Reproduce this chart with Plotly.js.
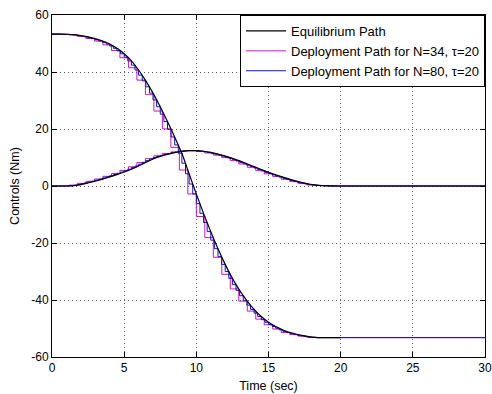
<!DOCTYPE html>
<html>
<head>
<meta charset="utf-8">
<script src="https://cdn.plot.ly/plotly-3.0.1.min.js"></script>
<style>
html,body{margin:0;padding:0;background:#fff;}
#chart{width:492px;height:394px;}
</style>
</head>
<body>
<div id="chart"></div>
<script>
// ---- Data ----
var tau = 20;            // deployment horizon (sec)
var tEnd = 30;           // end of time axis (sec)
var nCoarse = 34;        // N for the magenta deployment path
var nFine = 80;          // N for the blue deployment path

// Equilibrium path, sampled every 0.5 s
var eqTime1 = [0,0.5,1,1.5,2,2.5,3,3.5,4,4.5,5,5.5,6,6.5,7,7.5,8,8.5,9,9.5,10,10.5,11,11.5,12,12.5,13,13.5,14,14.5,15,15.5,16,16.5,17,17.5,18,18.5,19,19.5,20];
var eqU1 = [53.3,53.3,53.25,53.1,52.8,52.3,51.7,50.9,49.8,48.3,46.4,43.9,40.7,36.9,32.6,27.8,22.6,17.2,11.5,4.3,-2.8,-9.6,-16.0,-22.0,-27.5,-32.4,-36.6,-40.2,-43.3,-45.8,-47.8,-49.3,-50.5,-51.4,-52.1,-52.6,-53.0,-53.2,-53.2,-53.2,-53.2];
var eqTime2 = [0,0.5,1,1.5,2,2.5,3,3.5,4,4.5,5,5.5,6,6.5,7,7.5,8,8.5,9,9.5,10,10.5,11,11.5,12,12.5,13,13.5,14,14.5,15,15.5,16,16.5,17,17.5,18,18.5,19,19.5,20,30];
var eqU2 = [0,0,0,0.1,0.5,1.1,1.7,2.4,3.2,4.0,4.9,5.9,7.0,8.3,9.5,10.4,11.1,11.7,12.1,12.4,12.4,12.2,11.8,11.2,10.5,9.7,8.8,7.8,6.8,5.8,4.8,3.9,3.1,2.3,1.6,1.0,0.5,0.25,0.1,0.03,0,0];

// Deployment path N=34 (values at each sample instant k*tau/N)
var n34U1 = [53.3,53.3,53.2,53.0,52.45,51.75,50.85,49.5,47.55,45.0,41.5,37.15,32.05,26.3,20.05,13.55,5.6,-2.8,-10.7,-18.1,-25.0,-31.0,-36.1,-40.4,-43.9,-46.7,-48.7,-50.2,-51.4,-52.15,-52.7,-53.1,-53.2,-53.2,-53.2];
var n34U2 = [0,0,0.02,0.3,0.92,1.63,2.45,3.39,4.37,5.49,6.74,8.22,9.6,10.6,11.38,11.96,12.35,12.4,12.13,11.59,10.83,9.94,8.9,7.74,6.56,5.39,4.27,3.29,2.35,1.53,0.85,0.38,0.15,0.04,0];

// Deployment path N=80
var n80U1 = [53.3,53.3,53.3,53.3,53.25,53.2,53.1,53.0,52.8,52.55,52.3,52.0,51.7,51.3,50.9,50.4,49.8,49.1,48.3,47.4,46.4,45.2,43.9,42.4,40.7,38.9,36.9,34.8,32.6,30.2,27.8,25.2,22.6,19.9,17.2,14.4,11.5,8.0,4.3,0.7,-2.8,-6.2,-9.6,-12.8,-16.0,-19.0,-22.0,-24.8,-27.5,-30.0,-32.4,-34.6,-36.6,-38.5,-40.2,-41.8,-43.3,-44.6,-45.8,-46.9,-47.8,-48.6,-49.3,-49.9,-50.5,-51.0,-51.4,-51.8,-52.1,-52.4,-52.6,-52.8,-53.0,-53.1,-53.2,-53.2,-53.2,-53.2,-53.2,-53.2,-53.2];
var n80U2 = [0,0,0,0,0,0.03,0.1,0.28,0.5,0.8,1.1,1.4,1.7,2.05,2.4,2.8,3.2,3.6,4.0,4.45,4.9,5.4,5.9,6.45,7.0,7.65,8.3,8.9,9.5,9.95,10.4,10.75,11.1,11.4,11.7,11.9,12.1,12.25,12.4,12.42,12.4,12.3,12.2,12.0,11.8,11.5,11.2,10.85,10.5,10.1,9.7,9.25,8.8,8.3,7.8,7.3,6.8,6.3,5.8,5.3,4.8,4.35,3.9,3.5,3.1,2.7,2.3,1.95,1.6,1.3,1.0,0.75,0.5,0.37,0.25,0.17,0.1,0.06,0.03,0.01,0];

var xTicks = [0,5,10,15,20,25,30];
var yTicks = [-60,-40,-20,0,20,40,60];

var legendNames = ['Equilibrium Path', 'Deployment Path for N=34, \u03c4=20', 'Deployment Path for N=80, \u03c4=20'];

// ---- Build sample instants from N and tau; deployment holds its last value to tEnd ----
function grid(N){ var a=[]; for(var k=0;k<=N;k++){ a.push(k*tau/N); } a.push(tEnd); return a; }
function hold(v){ return v.concat([v[v.length-1]]); }

var cBlack = '#000000', cMag = '#d010d0', cBlue = '#1010c8';

var traces = [
  {x:grid(nCoarse), y:hold(n34U1), mode:'lines', line:{color:cMag, width:1, shape:'vh'}, name:legendNames[1], legendrank:2, legendgroup:'b'},
  {x:grid(nCoarse), y:hold(n34U2), mode:'lines', line:{color:cMag, width:1, shape:'vh'}, showlegend:false, legendgroup:'b'},
  {x:grid(nFine), y:hold(n80U1), mode:'lines', line:{color:cBlue, width:1, shape:'vh'}, name:legendNames[2], legendrank:3, legendgroup:'c'},
  {x:grid(nFine), y:hold(n80U2), mode:'lines', line:{color:cBlue, width:1, shape:'vh'}, showlegend:false, legendgroup:'c'},
  {x:eqTime1, y:eqU1, mode:'lines', line:{color:cBlack, width:1.2, shape:'spline', smoothing:0.6}, name:legendNames[0], legendrank:1, legendgroup:'a'},
  {x:eqTime2, y:eqU2, mode:'lines', line:{color:cBlack, width:1.2, shape:'spline', smoothing:0.6}, showlegend:false, legendgroup:'a'}
];

var font = {family:'"Liberation Sans", Arial, Helvetica, sans-serif', size:12, color:'#000'};

var axisCommon = {
  showline:true, linecolor:'#000', linewidth:1, mirror:'ticks',
  ticks:'inside', ticklen:5, tickcolor:'#000', tickwidth:1,
  showgrid:true, gridcolor:'#555', gridwidth:1, griddash:'1px,3px',
  zeroline:false, tickfont:{family:font.family, size:12, color:'#000'}
};

var layout = {
  width:492, height:394,
  margin:{l:52, r:7, t:15, b:37},
  paper_bgcolor:'#fff', plot_bgcolor:'#fff',
  font:font,
  showlegend:true,
  legend:{x:1, y:1, xanchor:'right', yanchor:'top', bgcolor:'#fff', bordercolor:'#000', borderwidth:1,
          font:{family:font.family, size:13, color:'#000'}, traceorder:'normal', tracegroupgap:0, itemwidth:40},
  xaxis:Object.assign({}, axisCommon, {range:[0,30], tickvals:xTicks, ticktext:xTicks.map(String),
          title:{text:'Time (sec)', font:{family:font.family, size:12.5, color:'#000'}, standoff:6}}),
  yaxis:Object.assign({}, axisCommon, {range:[-60,60], tickvals:yTicks, ticktext:yTicks.map(String),
          title:{text:'Controls (Nm)', font:{family:font.family, size:12.5, color:'#000'}, standoff:8}})
};

Plotly.newPlot('chart', traces, layout, {staticPlot:true, displayModeBar:false});
</script>
</body>
</html>
